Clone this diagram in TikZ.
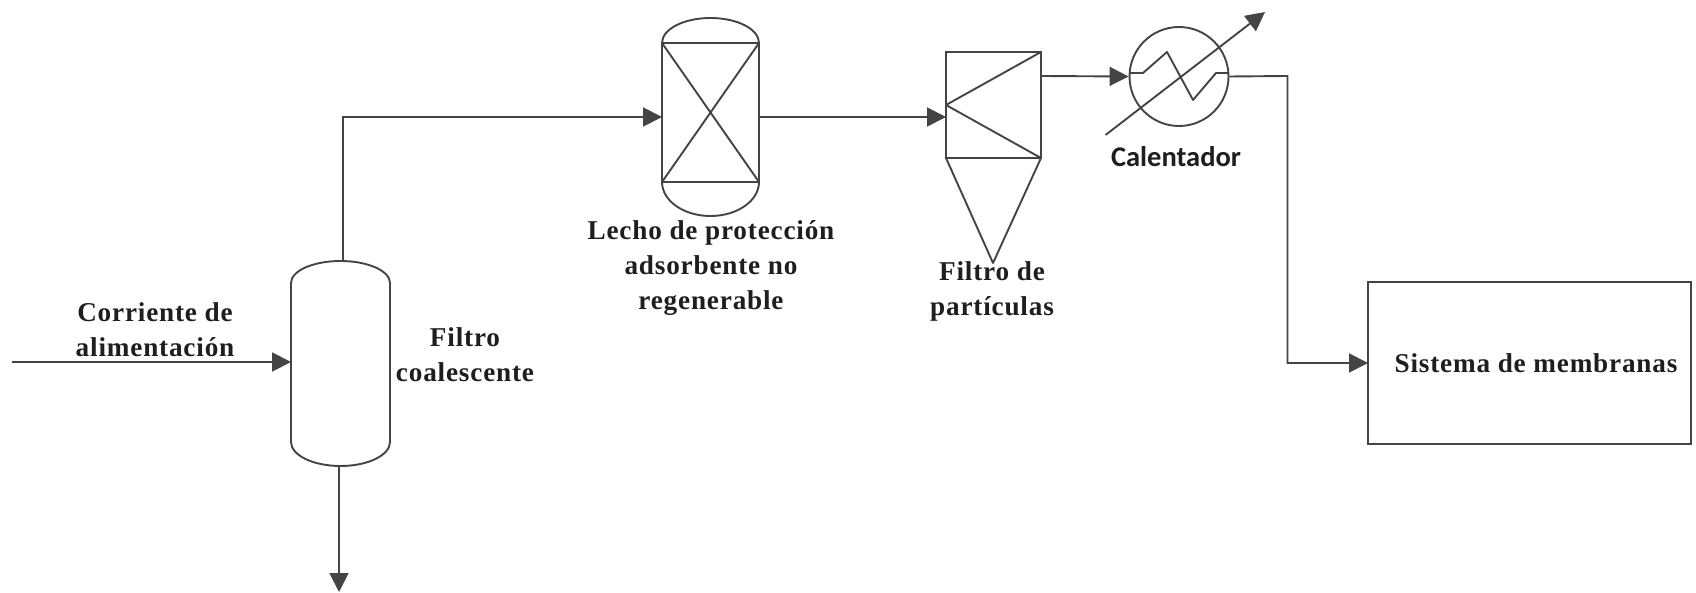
\documentclass[tikz,border=0pt]{standalone}
\usepackage{fontspec}
\setmainfont{Liberation Serif}[LetterSpace=3.0]
\newfontfamily\calfont{Carlito}
\usetikzlibrary{arrows.meta}
\definecolor{ink}{HTML}{444444}
\definecolor{txt}{HTML}{1E1E1E}
\tikzset{
  x=1pt,y=-1pt,
  equip/.style={draw=ink,line width=1.9pt,line join=round},
  flow/.style={draw=ink,line width=1.9pt,-{Triangle[length=19pt,width=19pt]}},
  box/.style={rectangle,inner sep=0pt,outer sep=0pt},
  lab/.style={text=txt,align=center,inner sep=0pt,font=\fontsize{27.2}{35}\selectfont\bfseries},
}
\begin{document}
\begin{tikzpicture}
\useasboundingbox (0,0) rectangle (1696,593);
% anchors
\coordinate (feed) at (12,362);
\coordinate (coalIn) at (291,362);
\coordinate (coalTop) at (343,261);
\coordinate (coalBot) at (339,466);
\coordinate (drain) at (339,592);
\coordinate (filtIn) at (946,117);
\coordinate (filtOut) at (1041,76);
\coordinate (bend) at (1287.5,76);
\coordinate (utilIn) at (1105.5,135);
\coordinate (utilOut) at (1265,12);
% equipment
\node[box,minimum width=97pt,minimum height=198pt] (bed) at (710.5,117) {};
\node[box,draw=ink,line width=1.9pt,minimum width=95pt,minimum height=106pt] (filt) at (993.5,105) {};
\node[circle,draw=ink,line width=1.9pt,inner sep=0pt,minimum size=99pt] (hx) at (1179,76.5) {};
\node[box,draw=ink,line width=1.9pt,minimum width=323pt,minimum height=162.5pt,text=txt,font=\fontsize{27.2}{30}\selectfont\bfseries] (memb) at (1529.5,363) {\hspace*{13pt}Sistema de membranas};
% coalescing filter vessel
\draw[equip] (291,283) arc[start angle=180,end angle=0,x radius=49.5pt,y radius=22pt]
  -- (390,442) arc[start angle=0,end angle=-180,x radius=49.5pt,y radius=24pt] -- cycle;
% guard bed vessel
\draw[equip] (662,43) arc[start angle=180,end angle=0,x radius=48.5pt,y radius=25pt]
  -- (759,182) arc[start angle=0,end angle=-180,x radius=48.5pt,y radius=34pt] -- cycle;
\draw[equip] (662,43) -- (759,43) (662,182) -- (759,182)
  (662,43) -- (759,182) (759,43) -- (662,182);
% particle filter internals
\draw[equip] (1041,52) -- (946,105) -- (1041,158);
\draw[equip] (946,158) -- (993,263) -- (1041,158);
% exchanger coil
\draw[equip] (1129.5,73) -- (1143,73) -- (1167,52) -- (1193,100) -- (1216,73) -- (1228,73);
% connectors
\draw[flow] (feed) -- (coalIn);
\draw[flow] (coalTop) |- (bed.west);
\draw[flow] (coalBot) -- (drain);
\draw[flow] (bed.east) -- (filtIn);
\draw[flow] (filtOut) -- (hx.west);
\draw[flow] (hx.east) -- (bend) |- (memb.west);
\draw[flow] (utilIn) -- (utilOut);
% labels
\node[lab] (l1) at (155,329.5) {Corriente de\\alimentación};
\node[lab] (l2) at (465,354.5) {Filtro\\coalescente};
\node[lab] (l3) at (711,268) {Lecho de protección\\adsorbente no\\regenerable};
\node[lab] (l4) at (992,291.5) {Filtro de\\partículas};
\node[text=txt,inner sep=0pt,font=\fontsize{28.5}{30}\selectfont\calfont\bfseries] (l5) at (1176,157) {Calentador};
\end{tikzpicture}
\end{document}
